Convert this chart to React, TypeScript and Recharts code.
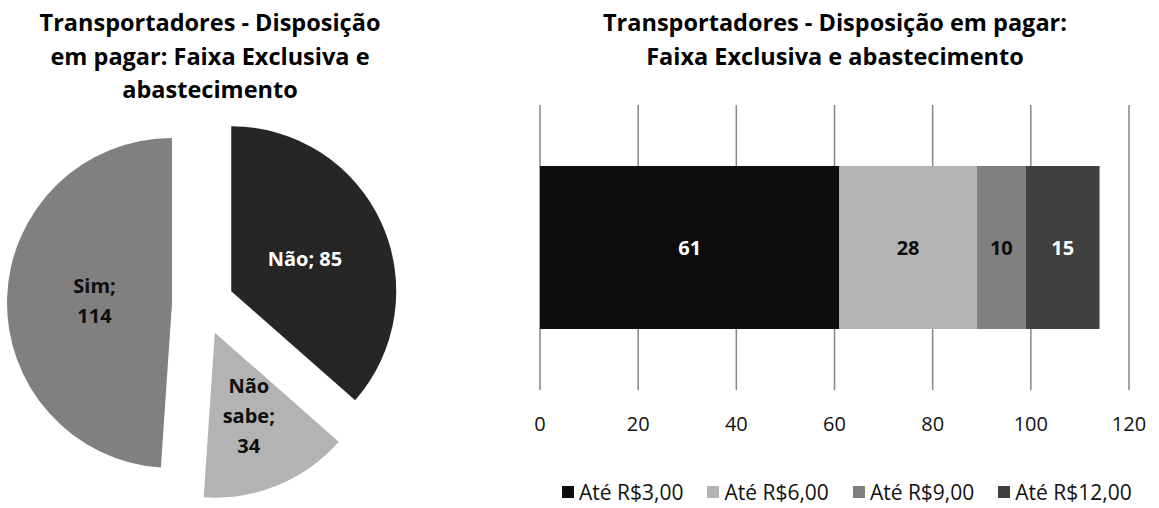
import { PieChart, Pie, Cell, BarChart, Bar, XAxis, YAxis, CartesianGrid, LabelList } from 'recharts';

// Pie: willingness to pay (count of carriers)
const pieNames = ['Não', 'Não sabe', 'Sim'];
const pieValues = [85, 34, 114];
const pieColors = ['#262626', '#b3b3b3', '#808080'];
const pieLabelColors = ['#ffffff', '#0d0d0d', '#0d0d0d'];
const pieLabelWrap = [false, true, true];
const pieLabelRadius = [0.49, 0.54, 0.47];

// Stacked bar: how much they would pay
const barSeries = ['Até R$3,00', 'Até R$6,00', 'Até R$9,00', 'Até R$12,00'];
const barValues = [61, 28, 10, 15];
const barColors = ['#0d0d0d', '#b3b3b3', '#808080', '#404040'];
const barLabelColors = ['#ffffff', '#0d0d0d', '#0d0d0d', '#ffffff'];
const xTicks = [0, 20, 40, 60, 80, 100, 120];

const FONT = '"Open Sans", sans-serif';

const PIE_CX = 198;
const PIE_CY = 299;
const PIE_R = 165;
const EXPLODE = 31;

const pieData = pieNames.map((name, i) => ({ name, value: pieValues[i] }));
const total = pieValues.reduce((a, b) => a + b, 0);

// mid angle of each slice, clockwise from 12 o'clock (degrees)
const midAngles = pieValues.map((v, i) => {
  const before = pieValues.slice(0, i).reduce((a, b) => a + b, 0);
  return ((before + v / 2) / total) * 360;
});

const barRow: Record<string, string | number> = { name: 'Transportadores' };
barSeries.forEach((s, i) => {
  barRow[s] = barValues[i];
});
const barData = [barRow];

const makeLabel = (k: number) => (props: any) => {
  if (props.index !== k) return null;
  const RAD = Math.PI / 180;
  const r = props.outerRadius * pieLabelRadius[k];
  const x = props.cx + r * Math.cos(-props.midAngle * RAD);
  const y = props.cy + r * Math.sin(-props.midAngle * RAD);
  const text = `${props.name}; ${props.value}`;
  const lines = pieLabelWrap[k] ? text.split(' ') : [text];
  const lh = 30;
  const y0 = y - ((lines.length - 1) * lh) / 2;
  return (
    <text
      x={x}
      y={y0}
      textAnchor="middle"
      dominantBaseline="central"
      fill={pieLabelColors[k]}
      fontSize={20}
      fontWeight={700}
      fontFamily={FONT}
    >
      {lines.map((l, j) => (
        <tspan key={j} x={x} y={y0 + j * lh}>
          {l}
        </tspan>
      ))}
    </text>
  );
};

const titleStyle: React.CSSProperties = {
  position: 'absolute',
  textAlign: 'center',
  fontFamily: FONT,
  fontWeight: 700,
  fontSize: 23.5,
  lineHeight: '33.5px',
  color: '#000',
  whiteSpace: 'nowrap',
};

export default function App() {
  return (
    <div style={{ position: 'absolute', left: 0, top: 0, width: 1159, height: 508, background: '#fff', fontFamily: FONT }}>
      <div style={{ ...titleStyle, left: 10, width: 400, top: 6 }}>
        Transportadores - Disposição
        <br />
        em pagar: Faixa Exclusiva e
        <br />
        abastecimento
      </div>
      <div style={{ ...titleStyle, left: 535, width: 600, top: 6 }}>
        Transportadores - Disposição em pagar:
        <br />
        Faixa Exclusiva e abastecimento
      </div>

      <div style={{ position: 'absolute', left: 0, top: 0 }}>
        <PieChart width={420} height={508}>
          {pieNames.map((_, k) => {
            const a = (midAngles[k] * Math.PI) / 180;
            return (
              <Pie
                key={k}
                data={pieData}
                dataKey="value"
                nameKey="name"
                cx={PIE_CX + EXPLODE * Math.sin(a)}
                cy={PIE_CY - EXPLODE * Math.cos(a)}
                outerRadius={PIE_R}
                startAngle={90}
                endAngle={-270}
                stroke="none"
                label={makeLabel(k)}
                labelLine={false}
                isAnimationActive={false}
              >
                {pieData.map((_, i) => (
                  <Cell key={i} fill={i === k ? pieColors[i] : 'none'} />
                ))}
              </Pie>
            );
          })}
        </PieChart>
      </div>

      <div style={{ position: 'absolute', left: 0, top: 0 }}>
        <BarChart
          width={1159}
          height={508}
          data={barData}
          layout="vertical"
          margin={{ top: 105, right: 30, bottom: 68, left: 540 }}
          barCategoryGap="21.4%"
        >
          <CartesianGrid horizontal={false} stroke="#868686" strokeWidth={1.5} />
          <XAxis
            type="number"
            domain={[0, 120]}
            ticks={xTicks}
            axisLine={false}
            tickLine={false}
            tickMargin={21}
            height={50}
            tick={{ fontSize: 20, fill: '#111', fontFamily: FONT }}
          />
          <YAxis type="category" dataKey="name" hide />
          {barSeries.map((s, i) => (
            <Bar key={s} dataKey={s} stackId="a" fill={barColors[i]} isAnimationActive={false}>
              <LabelList
                dataKey={s}
                position="center"
                fill={barLabelColors[i]}
                fontSize={20}
                fontWeight={700}
                fontFamily={FONT}
              />
            </Bar>
          ))}
        </BarChart>
      </div>

      <div
        style={{
          position: 'absolute',
          left: 562,
          top: 478,
          display: 'flex',
          alignItems: 'center',
          fontSize: 21,
          color: '#111',
          whiteSpace: 'nowrap',
        }}
      >
        {barSeries.map((s, i) => (
          <div key={s} style={{ display: 'flex', alignItems: 'center', marginRight: i < barSeries.length - 1 ? 24 : 0 }}>
            <span style={{ display: 'inline-block', width: 12, height: 12, background: barColors[i], marginRight: 5 }} />
            <span>{s}</span>
          </div>
        ))}
      </div>
    </div>
  );
}
